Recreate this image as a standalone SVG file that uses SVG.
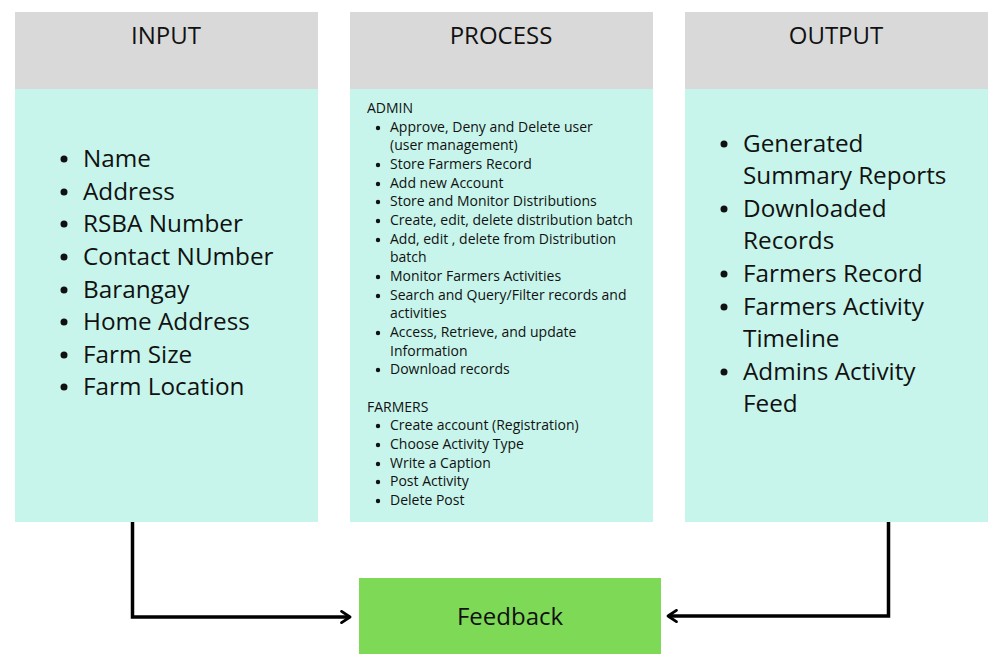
<svg xmlns="http://www.w3.org/2000/svg" width="1005" height="664" viewBox="0 0 1005 664">
<style>
.hdr{fill:#d9d9d9}
.body{fill:#c7f5eb}
.ht{font-family:"Open Sans","Noto Sans",sans-serif;font-size:24px;fill:#111;text-anchor:middle}
.big{font-family:"Open Sans","Noto Sans",sans-serif;font-size:24.3px;fill:#111}
.sm{font-family:"Open Sans","Noto Sans",sans-serif;font-size:14px;fill:#111}
.conn{fill:none;stroke:#000;stroke-width:3.5}
</style>
<defs>
<marker id="arr" viewBox="0 0 10 10" refX="8" refY="5" markerWidth="4" markerHeight="4" orient="auto" markerUnits="strokeWidth">
<path d="M2,1 L8,5 L2,9" fill="none" stroke="#000" stroke-width="2" stroke-linecap="round" stroke-linejoin="round"/>
</marker>
</defs>
<rect width="1005" height="664" fill="#fff"/>
<g id="input">
<rect class="hdr" x="15" y="12" width="303" height="77"/>
<rect class="body" x="15" y="89" width="303" height="433"/>
<text class="ht" x="166" y="44">INPUT</text>
<g class="big">
<circle cx="64" cy="159" r="3.5"/><text x="83" y="167">Name</text>
<circle cx="64" cy="192" r="3.5"/><text x="83" y="200">Address</text>
<circle cx="64" cy="224" r="3.5"/><text x="83" y="232">RSBA Number</text>
<circle cx="64" cy="257" r="3.5"/><text x="83" y="265">Contact NUmber</text>
<circle cx="64" cy="290" r="3.5"/><text x="83" y="298">Barangay</text>
<circle cx="64" cy="322" r="3.5"/><text x="83" y="330">Home Address</text>
<circle cx="64" cy="355" r="3.5"/><text x="83" y="363">Farm Size</text>
<circle cx="64" cy="387" r="3.5"/><text x="83" y="395">Farm Location</text>
</g>
</g>
<g id="process">
<rect class="hdr" x="350" y="12" width="303" height="77"/>
<rect class="body" x="350" y="89" width="303" height="433"/>
<text class="ht" x="501" y="44">PROCESS</text>
<g class="sm">
<text x="367" y="113">ADMIN</text>
<circle cx="378" cy="128" r="2.2"/><text x="390" y="132">Approve, Deny and Delete user</text>
<text x="390" y="150">(user management)</text>
<circle cx="378" cy="165" r="2.2"/><text x="390" y="169">Store Farmers Record</text>
<circle cx="378" cy="184" r="2.2"/><text x="390" y="188">Add new Account</text>
<circle cx="378" cy="202" r="2.2"/><text x="390" y="206">Store and Monitor Distributions</text>
<circle cx="378" cy="221" r="2.2"/><text x="390" y="225">Create, edit, delete distribution batch</text>
<circle cx="378" cy="240" r="2.2"/><text x="390" y="244">Add, edit , delete from Distribution</text>
<text x="390" y="262">batch</text>
<circle cx="378" cy="277" r="2.2"/><text x="390" y="281">Monitor Farmers Activities</text>
<circle cx="378" cy="296" r="2.2"/><text x="390" y="300">Search and Query/Filter records and</text>
<text x="390" y="318">activities</text>
<circle cx="378" cy="333" r="2.2"/><text x="390" y="337">Access, Retrieve, and update</text>
<text x="390" y="356">Information</text>
<circle cx="378" cy="370" r="2.2"/><text x="390" y="374">Download records</text>
<text x="367" y="412">FARMERS</text>
<circle cx="378" cy="426" r="2.2"/><text x="390" y="430">Create account (Registration)</text>
<circle cx="378" cy="445" r="2.2"/><text x="390" y="449">Choose Activity Type</text>
<circle cx="378" cy="464" r="2.2"/><text x="390" y="468">Write a Caption</text>
<circle cx="378" cy="482" r="2.2"/><text x="390" y="486">Post Activity</text>
<circle cx="378" cy="501" r="2.2"/><text x="390" y="505">Delete Post</text>
</g>
</g>
<g id="output">
<rect class="hdr" x="685" y="12" width="303" height="77"/>
<rect class="body" x="685" y="89" width="303" height="433"/>
<text class="ht" x="836" y="44">OUTPUT</text>
<g class="big">
<circle cx="724" cy="144" r="3.5"/><text x="743" y="152">Generated</text>
<text x="743" y="184">Summary Reports</text>
<circle cx="724" cy="209" r="3.5"/><text x="743" y="217">Downloaded</text>
<text x="743" y="249">Records</text>
<circle cx="724" cy="274" r="3.5"/><text x="743" y="282">Farmers Record</text>
<circle cx="724" cy="307" r="3.5"/><text x="743" y="315">Farmers Activity</text>
<text x="743" y="347">Timeline</text>
<circle cx="724" cy="372" r="3.5"/><text x="743" y="380">Admins Activity</text>
<text x="743" y="412">Feed</text>
</g>
</g>
<g id="feedback">
<rect x="359" y="578" width="302" height="76" fill="#7ed957"/>
<text class="ht" x="510" y="625">Feedback</text>
</g>
<g id="connectors">
<path class="conn" d="M132.5,522 V617 H350" marker-end="url(#arr)"/>
<path class="conn" d="M888.5,522 V616 H668" marker-end="url(#arr)"/>
</g>
</svg>
